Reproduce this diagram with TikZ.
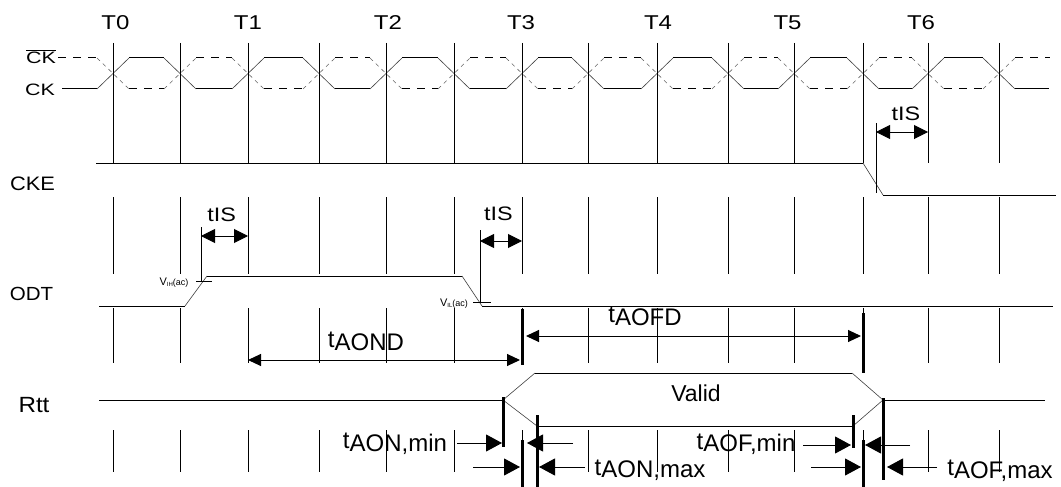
\documentclass[tikz,border=0pt]{standalone}
\usepackage{fontspec}
\setmainfont{Liberation Sans}
\usepackage{graphicx}
\usetikzlibrary{arrows.meta}
\newcommand{\hs}[2]{\scalebox{#1}[1]{#2}}
\newcommand{\rt}{\raisebox{2.5pt}{t}}
\begin{document}
\begin{tikzpicture}[x=1pt,y=-1pt,
  wire/.style={line width=1pt},
  slope/.style={line width=0.6pt,black!75},
  dwire/.style={line width=1pt,dash pattern=on 8pt off 7pt},
  dslope/.style={line width=0.6pt,black!60,dash pattern=on 4pt off 4pt},
  grid/.style={line width=1pt},
  bar/.style={line width=3pt},
  tis/.style={line width=1pt,{Triangle[length=14pt,width=14pt]}-{Triangle[length=14pt,width=14pt]}},
  dlong/.style={line width=1pt,{Triangle[length=13pt,width=12pt]}-{Triangle[length=13pt,width=12pt]}},
  big/.style={line width=1pt,-{Triangle[length=16pt,width=17pt]}},
  lbl/.style={inner sep=0pt,anchor=base},
  fT/.style={font=\fontsize{20}{24}\selectfont},
  fCK/.style={font=\fontsize{16.5}{20}\selectfont},
  fS/.style={font=\fontsize{19.5}{23}\selectfont},
  fB/.style={font=\fontsize{24}{28}\selectfont},
  fV/.style={font=\fontsize{11}{12}\selectfont}
]
\useasboundingbox (0,0) rectangle (1061,487);
\def\xs{113,180,248,319,386,454,522,588,657,728,794,863,928,999}

% clock edges
\foreach \x [count=\k, evaluate=\k as \ya using {58+31*mod(\k,2)}] in \xs {
  \draw[slope] (\x-16,\ya) -- (\x+16,147-\ya);
  \draw[dslope] (\x-16,147-\ya) -- (\x+16,\ya);
}
% clock flats
\foreach \x [count=\k, remember=\x as \px (initially 46), evaluate=\k as \yl using {58+31*mod(\k,2)}] in \xs {
  \draw[wire] (\px+16,\yl) -- (\x-16,\yl);
}
\foreach \x [count=\k, remember=\x as \px (initially 42), evaluate=\k as \yl using {147-(58+31*mod(\k,2))}] in \xs {
  \draw[dwire] (\px+16,\yl) -- (\x-16,\yl);
}
\draw[wire] (1015,89) -- (1049,89);
\draw[dwire] (1015,58) -- (1050,58);

% grid lines
\foreach \x in \xs {
  \draw[grid] (\x,43) -- (\x,163);
  \draw[grid] (\x,197) -- (\x,274);
  \draw[grid] (\x,308) -- (\x,363);
  \draw[grid] (\x,430) -- (\x,472);
}

% CKE
\draw[wire] (96,163) -- (863,163);
\draw[slope] (863,163) -- (883,195);
\draw[wire] (883,195) -- (1056,195);

% ODT
\draw[wire] (99,306) -- (185,306);
\draw[slope] (185,306) -- (207,276);
\draw[wire] (207,276) -- (462,276);
\draw[slope] (462,276) -- (482,306);
\draw[wire] (482,306) -- (1053,306);
\draw[wire] (196,281) -- (212,281);
\draw[wire] (473,302) -- (491,302);

% Rtt
\draw[wire] (99,400) -- (503,400);
\draw[slope] (503,400) -- (535,373);
\draw[wire] (535,373) -- (852,373);
\draw[slope] (852,373) -- (883,400);
\draw[slope] (503,400) -- (537,426);
\draw[wire] (537,426) -- (853,426);
\draw[slope] (853,426) -- (883,400);
\draw[wire] (883,400) -- (1045,400);

% tIS markers
\draw[wire] (876,123) -- (876,193);
\draw[wire] (201,227) -- (201,282);
\draw[wire] (480,230) -- (480,303);
\draw[tis] (876,132) -- (928,132);
\draw[tis] (201,236) -- (248,236);
\draw[tis] (480,241) -- (522,241);

% thick bars
\draw[bar] (522,309) -- (522,365);
\draw[bar] (863,313) -- (863,373);
\draw[bar] (503,397) -- (503,447);
\draw[bar] (537,415) -- (537,487);
\draw[bar] (522,440) -- (522,487);
\draw[bar] (853,415) -- (853,448);
\draw[bar] (863,440) -- (863,487);
\draw[bar] (883,398) -- (883,480);

% tAOND / tAOFD
\draw[dlong] (248,360) -- (520,360);
\draw[dlong] (526,336) -- (861,336);

% min/max arrows
\draw[big] (457,443) -- (502,443);
\draw[big] (573,443) -- (527,443);
\draw[big] (473,467) -- (520,467);
\draw[big] (585,467) -- (539,467);
\draw[big] (803,445) -- (851,445);
\draw[big] (910,445) -- (865,445);
\draw[big] (811,467) -- (861,467);
\draw[big] (937,467) -- (887,467);

% labels
\node[lbl,fT] (t0) at (115.5,29.5) {\hs{1.2}{T0}};
\node[lbl,fT] (t1) at (248,29.5) {\hs{1.2}{T1}};
\node[lbl,fT] (t2) at (388,29.5) {\hs{1.2}{T2}};
\node[lbl,fT] (t3) at (521,29.5) {\hs{1.2}{T3}};
\node[lbl,fT] (t4) at (658,29.5) {\hs{1.2}{T4}};
\node[lbl,fT] (t5) at (787.5,29.5) {\hs{1.2}{T5}};
\node[lbl,fT] (t6) at (921,29.5) {\hs{1.2}{T6}};
\node[lbl,fCK] (ckb) at (41,63.3) {\hs{1.3}{$\overline{\mbox{CK}}$}};
\node[lbl,fCK] (ck) at (40,95.5) {\hs{1.3}{CK}};
\node[lbl,fS] (cke) at (32.5,190.7) {\hs{1.12}{CKE}};
\node[lbl,font=\fontsize{19}{23}\selectfont] (odt) at (31.5,300) {\hs{1.08}{ODT}};
\node[lbl,font=\fontsize{22}{26}\selectfont] (rtt) at (34,412.7) {\hs{1.1}{Rtt}};
\node[lbl,fS] (tis1) at (906,120.7) {\hs{1.2}{tIS}};
\node[lbl,fS] (tis2) at (221.6,221.7) {\hs{1.2}{tIS}};
\node[lbl,fS] (tis3) at (498.5,220) {\hs{1.2}{tIS}};
\node[lbl,fV] (vih) at (174,285) {V\raisebox{-1pt}{\fontsize{6}{6}\selectfont IH}{\fontsize{9}{9}\selectfont(ac)}};
\node[lbl,fV] (vil) at (454,306) {V\raisebox{-1pt}{\fontsize{6}{6}\selectfont IL}{\fontsize{9}{9}\selectfont(ac)}};
\node[lbl,fB] (aond) at (366,350) {\rt AOND};
\node[lbl,fB] (aofd) at (645,325) {\rt AOFD};
\node[lbl,font=\fontsize{23}{27}\selectfont] (valid) at (696,401.7) {Valid};
\node[lbl,fB] (aonmin) at (395,451) {\rt AON,min};
\node[lbl,fB] (aonmax) at (650,477.7) {\rt AON,max};
\node[lbl,fB] (aofmin) at (746,451.7) {\rt AOF,min};
\node[lbl,fB] (aofmax) at (1000,478) {\rt AOF,max};
\end{tikzpicture}
\end{document}
